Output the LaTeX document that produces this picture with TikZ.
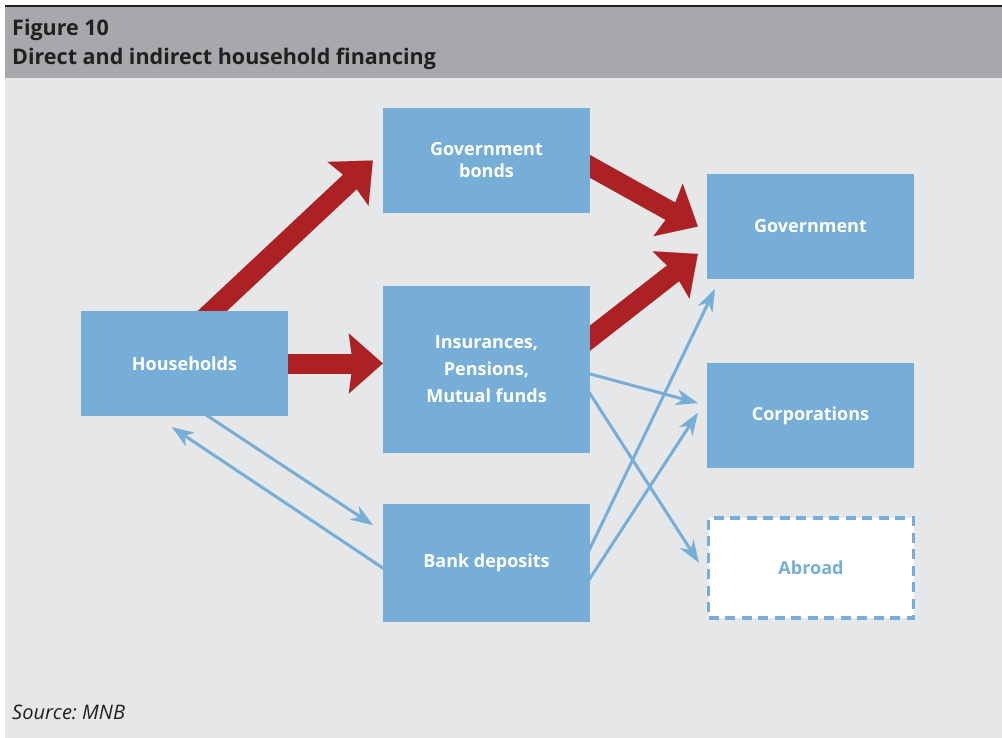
\documentclass[tikz,border=0pt]{standalone}
\usepackage{fontspec}
\setmainfont{Open Sans}
\frenchspacing
\usetikzlibrary{arrows.meta}

\definecolor{boxblue}{RGB}{118,174,216}
\definecolor{flowred}{RGB}{172,33,36}
\definecolor{headgray}{RGB}{166,168,171}
\definecolor{panelgray}{RGB}{230,231,233}
\definecolor{inkdark}{RGB}{35,31,32}

\pgfdeclarelayer{back}
\pgfdeclarelayer{flows}
\pgfsetlayers{back,flows,main}

\begin{document}
\begin{tikzpicture}[x=1pt,y=-1pt,
	box/.style={fill=boxblue,text=white,align=center,inner sep=0pt,
		minimum width=207pt,minimum height=105pt,
		font=\bfseries\fontsize{18}{22}\selectfont},
	redflow/.style={draw=flowred,line width=20pt,shorten <=-15pt,
		-{Stealth[length=34pt,width=60pt,inset=4pt,line width=0.01pt]}},
	blueflow/.style={draw=boxblue,line width=3pt,shorten <=-4pt,
		-{Stealth[length=22pt,width=16pt,inset=7pt,line width=0.01pt]}}]
	\useasboundingbox (0,0) rectangle (1002,738);

	% panel and header
	\begin{pgfonlayer}{back}
		\fill [panelgray] (5,78) rectangle (1002,738);
		\fill [headgray] (5,7) rectangle (1002,78);
		\draw [inkdark,line width=2pt] (5,6) -- (1002,6);
	\end{pgfonlayer}

	\node (title) [anchor=west,text=inkdark,align=left,inner sep=0pt,
		font=\bfseries\fontsize{21.5}{29}\selectfont] at (12,44.5)
		{Figure 10\\Direct and indirect household financing};
	\node (source) [anchor=base west,text=inkdark,inner sep=0pt,
		font=\itshape\fontsize{20}{24}\selectfont] at (12,719) {Source: MNB};

	% boxes
	\node[box] (hh) at (184.5,363.5) {Households};
	\node[box] (bonds) at (486.5,160.5) {Government\\bonds};
	\node[box,minimum height=167pt,font=\bfseries\fontsize{18}{27}\selectfont] (ins) at (486.5,369.5) {Insurances,\\Pensions,\\Mutual funds};
	\node[box,minimum height=118pt] (bank) at (486.5,563) {Bank deposits};
	\node[box] (gov) at (810.5,226.5) {Government};
	\node[box] (corp) at (810.5,415.5) {Corporations};
	\node[box,fill=white,text=boxblue,draw=boxblue,line width=3.5pt,
		dash pattern=on 10pt off 6.5pt,minimum width=205pt,minimum height=100pt] (abroad) at (811,568) {Abroad};

	% flows
	\begin{pgfonlayer}{flows}
		\draw[redflow] ([xshift=28pt]hh.north) -- ([xshift=-10pt]bonds.west);
		\draw[redflow] (hh.east) -- (hh.east -| ins.west);
		\draw[redflow] ([yshift=-6pt]bonds.east) -- ([xshift=-9pt]gov.west);
		\draw[redflow] ([yshift=31.5pt]ins.east) -- ([xshift=-9pt,yshift=-27.5pt]gov.west);

		\draw[blueflow] ([xshift=23.5pt]hh.south) -- ([xshift=-10pt,yshift=38pt]bank.west);
		\draw[blueflow] ([yshift=-5pt]bank.west) -- ([xshift=-12.5pt,yshift=-11pt]hh.south);
		\draw[blueflow] ([yshift=-4.5pt]ins.east) -- ([xshift=-9pt,yshift=12.5pt]corp.west);
		\draw[blueflow] ([yshift=-24.5pt]ins.east) -- ([xshift=-8pt,yshift=5.5pt]abroad.west);
		\draw[blueflow] ([yshift=15pt]bank.east) -- ([xshift=8pt,yshift=-10pt]gov.south west);
		\draw[blueflow] ([yshift=-15pt]bank.east) -- ([xshift=-9pt,yshift=2.5pt]corp.west);
	\end{pgfonlayer}
\end{tikzpicture}
\end{document}
